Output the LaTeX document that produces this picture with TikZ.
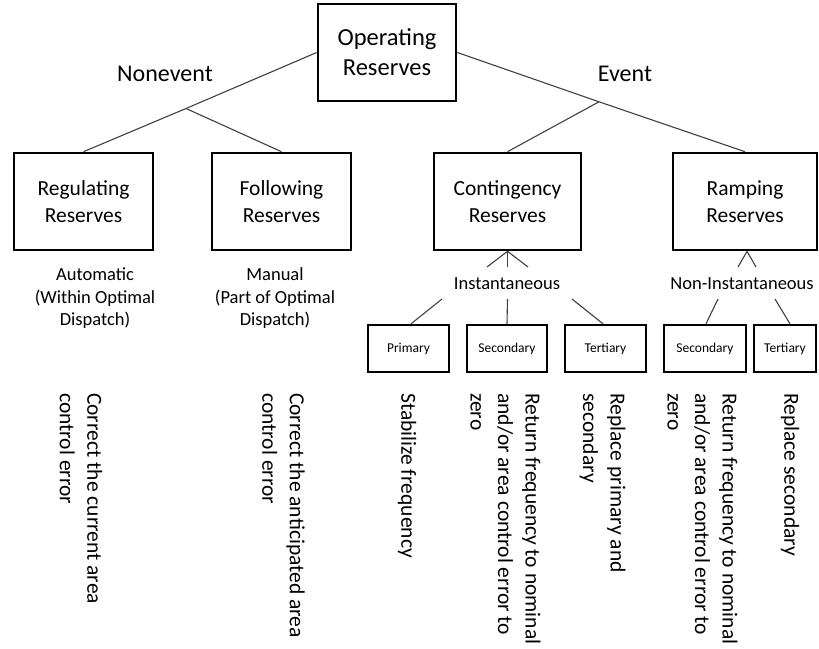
\documentclass[tikz,border=0pt]{standalone}
\usepackage{fontspec}
\setmainfont{Carlito}
\usetikzlibrary{calc}
\begin{document}
\begin{tikzpicture}[x=1pt,y=-1pt,
  bigbox/.style={draw=black,line width=2.6pt,inner sep=0pt,align=center,minimum height=97pt},
  smallbox/.style={draw=black,line width=2.4pt,inner sep=0pt,align=center,minimum height=47pt,font=\fontsize{13.5}{16}\selectfont},
  ttl/.style={font=\fontsize{21.5}{27}\selectfont},
  lbl/.style={inner sep=0pt,font=\fontsize{24}{29}\selectfont},
  note/.style={inner sep=0pt,align=center,font=\fontsize{18.5}{22.5}\selectfont},
  vnote/.style={inner sep=0pt,align=left,rotate=-90,anchor=west,font=\fontsize{21.5}{27.5}\selectfont},
  conn/.style={draw=black!75,line width=1.1pt}]
\useasboundingbox (0,0) rectangle (819,648);
% boxes
\node[bigbox,minimum width=138pt,font=\fontsize{24.5}{30}\selectfont] (oper) at (387,52.5) {Operating\\Reserves};
\node[bigbox,ttl,minimum width=139pt] (reg) at (83.5,201.5) {Regulating\\Reserves};
\node[bigbox,ttl,minimum width=139pt] (fol) at (281.5,201.5) {Following\\Reserves};
\node[bigbox,ttl,minimum width=147pt] (cont) at (507.5,201.5) {Contingency\\Reserves};
\node[bigbox,ttl,minimum width=144pt] (ramp) at (745,201.5) {Ramping\\Reserves};
\node[smallbox,minimum width=81pt] (prim) at (408.5,348.5) {Primary};
\node[smallbox,minimum width=80pt] (sec) at (507,348.5) {Secondary};
\node[smallbox,minimum width=81pt] (ter) at (605.5,348.5) {Tertiary};
\node[smallbox,minimum width=82pt] (sec2) at (705,348.5) {Secondary};
\node[smallbox,minimum width=62pt] (ter2) at (785,348.5) {Tertiary};
% labels
\node[lbl] (nonev) at (165,74) {Nonevent};
\node[lbl] (ev) at (625,74) {Event};
\node[note] (inst) at (507,284) {Instantaneous};
\node[note] (ninst) at (742,284) {Non-Instantaneous};
\node[note] (auto) at (95,298.5) {Automatic\\(Within Optimal\\Dispatch)};
\node[note] (man) at (275,298.5) {Manual\\(Part of Optimal\\Dispatch)};
% branch points
\coordinate (nb) at (186,108.5);
\coordinate (eb) at (599,101.8);
\coordinate (ci1) at (487,267);
\coordinate (ci2) at (507.5,267);
\coordinate (ci3) at (528,267);
\coordinate (io1) at (442,299);
\coordinate (io2) at (507.5,299);
\coordinate (io3) at (572,299);
\coordinate (ri1) at (738,267);
\coordinate (ri2) at (756,267);
\coordinate (no1) at (718,299);
\coordinate (no2) at (775,299);
% connectors
\draw[conn] (oper.west) -- (nb) -- (reg.north);
\draw[conn] (nb) -- (fol.north);
\draw[conn] (oper.east) -- (eb) -- (ramp.north);
\draw[conn] (eb) -- (cont.north);
\draw[conn] (ci1) -- (cont.south) -- (ci3);
\draw[conn] (cont.south) -- (ci2);
\draw[conn] (io1) -- ($(prim.north)+(2.5,0)$);
\draw[conn] (io2) -- (sec.north);
\draw[conn] (io3) -- ($(ter.north)+(-2.5,0)$);
\draw[conn] (ri1) -- ($(ramp.south)+(2,0)$) -- (ri2);
\draw[conn] (no1) -- ($(sec2.north)+(1,0)$);
\draw[conn] (no2) -- ($(ter2.north)+(5,0)$);
% vertical notes
\node[vnote] (v1) at (81,393) {Correct the current area\\control error};
\node[vnote] (v2) at (283.5,393) {Correct the anticipated area\\control error};
\node[vnote] (v3) at (407,393) {Stabilize frequency};
\node[vnote] (v4) at (505.5,393) {Return frequency to nominal\\and/or area control error to\\zero};
\node[vnote] (v5) at (602.5,393) {Replace primary and\\secondary};
\node[vnote] (v6) at (702.5,393) {Return frequency to nominal\\and/or area control error to\\zero};
\node[vnote] (v7) at (790,393) {Replace secondary};
\end{tikzpicture}
\end{document}
